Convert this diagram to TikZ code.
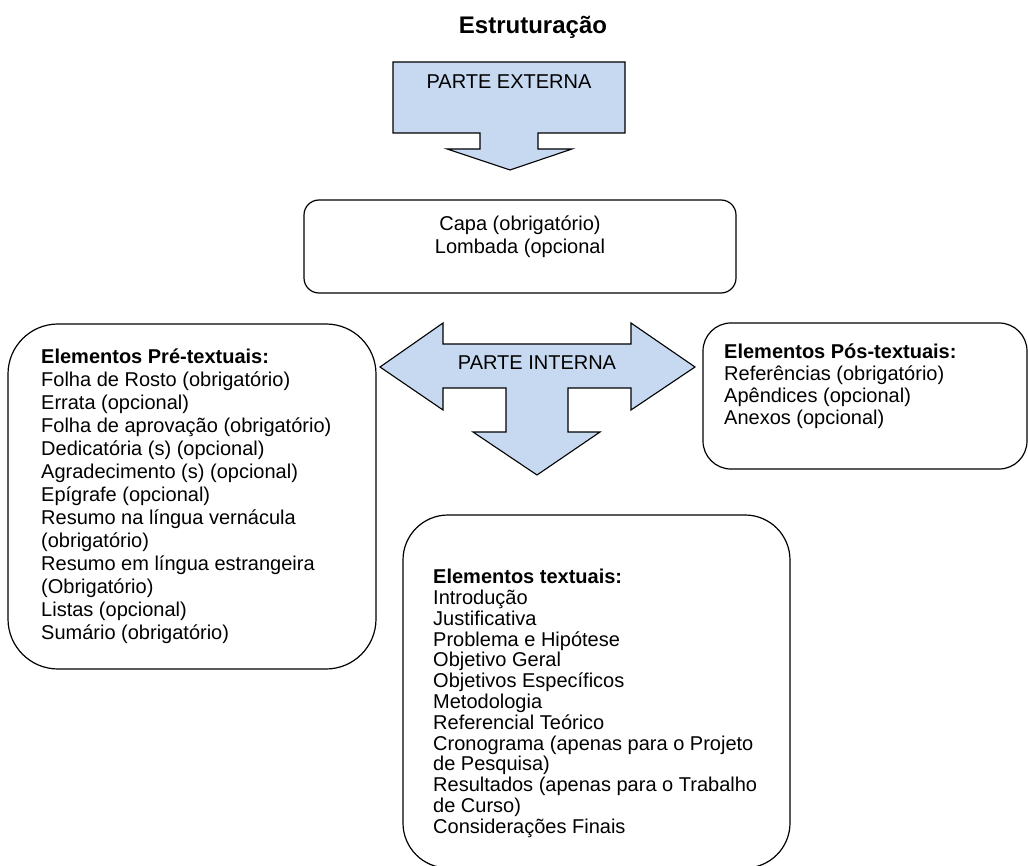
\documentclass[tikz,border=0pt]{standalone}
\usepackage{fontspec}
\setmainfont{Liberation Sans}
\definecolor{arrowblue}{RGB}{198,217,241}
\begin{document}
\begin{tikzpicture}[x=1pt,y=-1pt,
  bigarrow/.style={draw=black,line width=1.1pt,fill=arrowblue,line join=miter},
  roundbox/.style={draw=black,line width=1.2pt},
  body/.style={inner sep=0pt,font=\fontsize{20}{23}\selectfont},
]
\useasboundingbox (0,0) rectangle (1028,866);
% title
\node[inner sep=0pt,font=\fontsize{24}{28}\selectfont\bfseries] (title) at (533,27) {Estruturação};
% top arrow (parte externa)
\draw[bigarrow] (393,62) -- (625,62) -- (625,133) -- (538,133) -- (538,149) -- (572,149)
  -- (510,170) -- (447,149) -- (480,149) -- (480,133) -- (393,133) -- cycle;
\node[body] (externa) at (509,82) {PARTE EXTERNA};
% capa box
\draw[roundbox,rounded corners=15pt] (304,200) rectangle (736,293);
\node[body,align=center] (capa) at (520,237) {Capa (obrigatório)\\Lombada (opcional};
% parte interna arrow
\draw[bigarrow] (380,367) -- (443,323) -- (443,344) -- (631,344) -- (631,323) -- (695,367)
  -- (631,410) -- (631,388) -- (568,388) -- (568,432) -- (600,432) -- (537,475)
  -- (473,432) -- (506,432) -- (506,388) -- (443,388) -- (443,410) -- cycle;
\node[body] (interna) at (537,363) {PARTE INTERNA};
% left box
\draw[roundbox,rounded corners=50pt] (8,324) rectangle (376,669);
\node[body,align=left,anchor=north west] (pre) at (41,349) {\textbf{Elementos Pré-textuais:}\\
Folha de Rosto (obrigatório)\\
Errata (opcional)\\
Folha de aprovação (obrigatório)\\
Dedicatória (s) (opcional)\\
Agradecimento (s) (opcional)\\
Epígrafe (opcional)\\
Resumo na língua vernácula\\
(obrigatório)\\
Resumo em língua estrangeira\\
(Obrigatório)\\
Listas (opcional)\\
Sumário (obrigatório)};
% right box
\draw[roundbox,rounded corners=28pt] (703,323) rectangle (1027,469);
\node[body,align=left,anchor=north west,font=\fontsize{20}{22}\selectfont] (pos) at (724,344) {\textbf{Elementos Pós-textuais:}\\
Referências (obrigatório)\\
Apêndices (opcional)\\
Anexos (opcional)};
% bottom box (clipped by page)
\begin{scope}
\clip (0,0) rectangle (1028,866);
\draw[roundbox,rounded corners=45pt] (403,515) rectangle (790,868);
\end{scope}
\node[body,align=left,anchor=north west,font=\fontsize{20}{20.8}\selectfont] (txt) at (433,569) {\textbf{Elementos textuais:}\\
Introdução\\
Justificativa\\
Problema e Hipótese\\
Objetivo Geral\\
Objetivos Específicos\\
Metodologia\\
Referencial Teórico\\
Cronograma (apenas para o Projeto\\
de Pesquisa)\\
Resultados (apenas para o Trabalho\\
de Curso)\\
Considerações Finais};
\end{tikzpicture}
\end{document}
